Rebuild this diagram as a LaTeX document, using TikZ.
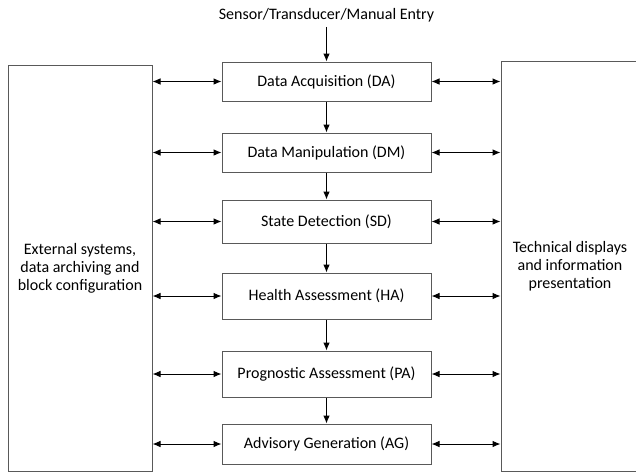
\documentclass[tikz,border=0pt]{standalone}
\usepackage{fontspec}
\setmainfont{Carlito}
\usetikzlibrary{arrows.meta, positioning}

\begin{document}
\begin{tikzpicture}[x=0.75pt, y=-0.75pt, line width=0.75pt,
    every node/.style={font=\fontsize{12}{13.6}\selectfont},
    block/.style={draw=black!65, rectangle, minimum width=156.75pt, inner sep=0pt},
    side/.style={draw=black!65, rectangle, inner sep=0pt, align=center},
    flow/.style={-{Latex[length=6pt,width=5pt]}},
    link/.style={{Latex[length=6pt,width=5pt]}-{Latex[length=6pt,width=5pt]}}]
    \useasboundingbox (0,0) rectangle (636,472);
    \node[side, minimum width=108pt, minimum height=304.5pt] at (80,268) (ext) {External systems,\\data archiving and\\block configuration};
    \node[side, minimum width=103.5pt, minimum height=307.5pt] at (570,266) (disp) {Technical displays\\and information\\presentation};
    \node at (326.5,15) (src) {Sensor/Transducer/Manual Entry};
    \node[block, minimum height=29.25pt] at (326.5,81.5) (DA) {Data Acquisition (DA)};
    \node[block, minimum height=29.25pt] at (326.5,152.5) (DM) {Data Manipulation (DM)};
    \node[block, minimum height=32.25pt] at (326.5,221.5) (SD) {State Detection (SD)};
    \node[block, minimum height=34.5pt] at (326.5,296) (HA) {Health Assessment (HA)};
    \node[block, minimum height=34.5pt] at (326.5,374) (PA) {Prognostic Assessment (PA)};
    \node[block, minimum height=30pt] at (326.5,444) (AG) {Advisory Generation (AG)};
    \draw[flow] (src.south) -- (DA.north);
    \foreach \a/\b in {DA/DM, DM/SD, SD/HA, HA/PA, PA/AG}
        \draw[flow] (\a.south) -- (\b.north);
    \foreach \n in {DA, DM, SD, HA, PA, AG} {
        \draw[link] (ext.east |- \n.west) -- (\n.west);
        \draw[link] (\n.east) -- (disp.west |- \n.east);
    }
\end{tikzpicture}
\end{document}
